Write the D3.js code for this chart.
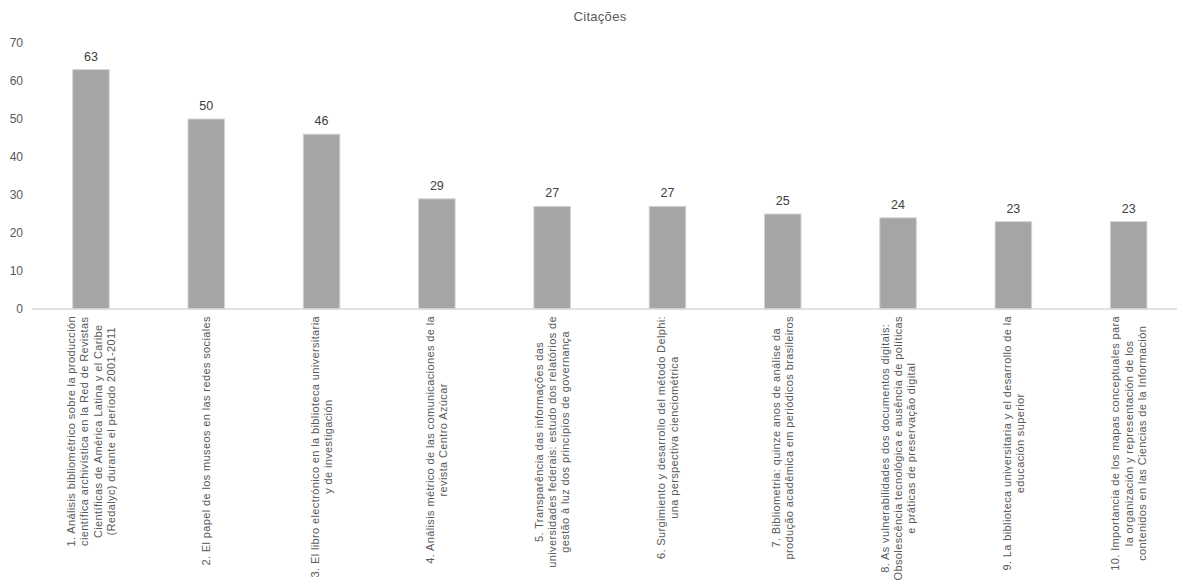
<!DOCTYPE html>
<html>
<head>
<meta charset="utf-8">
<script src="https://cdn.jsdelivr.net/npm/d3@7"></script>
<style>
  body { margin: 0; background: #fff; }
  svg { display: block; font-family: "Liberation Sans", Arial, sans-serif; }
</style>
</head>
<body>
<svg id="chart" width="1177" height="584"></svg>
<script>
const title = "Citações";
const categories = [
  ["1. Análisis bibliométrico sobre la producción", "científica archivística en la Red de Revistas", "Científicas de América Latina y el Caribe", "(Redalyc) durante el período 2001-2011"],
  ["2. El papel de los museos en las redes sociales"],
  ["3. El libro electrónico en la biblioteca universitaria", "y de investigación"],
  ["4. Análisis métrico de las comunicaciones de la", "revista Centro Azúcar"],
  ["5. Transparência das informações das", "universidades federais: estudo dos relatórios de", "gestão à luz dos princípios de governança"],
  ["6. Surgimiento y desarrollo del método Delphi:", "una perspectiva cienciométrica"],
  ["7. Bibliometria: quinze anos de análise da", "produção acadêmica em periódicos brasileiros"],
  ["8. As vulnerabilidades dos documentos digitais:", "Obsolescência tecnológica e ausência de políticas", "e práticas de preservação digital"],
  ["9. La biblioteca universitaria y el desarrollo de la", "educación superior"],
  ["10. Importancia de los mapas conceptuales para", "la organización y representación de los", "contenidos en las Ciencias de la Información"]
];
const values = [63, 50, 46, 29, 27, 27, 25, 24, 23, 23];
const yTicks = [0, 10, 20, 30, 40, 50, 60, 70];

const svg = d3.select("#chart");
const W = 1177;
const ids = d3.range(values.length);

const x = d3.scaleBand().domain(ids).range([33.3, 1186.3]).paddingInner(0.683).paddingOuter(0.3415);
const y = d3.scaleLinear().domain([0, 70]).range([309, 43]);

// title
svg.append("text").attr("x", 600).attr("y", 21).attr("text-anchor", "middle")
  .attr("fill", "#595959").attr("font-size", 13).attr("letter-spacing", 0.3).text(title);

// y axis labels
const yAxis = d3.axisLeft(y).tickValues(yTicks).tickSize(0).tickPadding(0);
const gy = svg.append("g").attr("transform", "translate(23,0)").call(yAxis);
gy.select(".domain").remove();
gy.selectAll("text").attr("fill", "#595959").attr("font-size", 12)
  .attr("font-family", "Liberation Sans, Arial, sans-serif");

// bars
svg.append("g").selectAll("rect").data(values).join("rect")
  .attr("x", (d, i) => x(i))
  .attr("y", d => y(d))
  .attr("width", x.bandwidth())
  .attr("height", d => y(0) - y(d))
  .attr("fill", "#a5a5a5")
  .attr("stroke", "#d4d4d4")
  .attr("stroke-width", 1);

// baseline
svg.append("line").attr("x1", 32).attr("x2", W).attr("y1", y(0)).attr("y2", y(0))
  .attr("stroke", "#d9d9d9").attr("stroke-width", 1.3);

// value labels
svg.append("g").selectAll("text").data(values).join("text")
  .attr("x", (d, i) => x(i) + x.bandwidth() / 2)
  .attr("y", d => y(d) - 9)
  .attr("text-anchor", "middle")
  .attr("fill", "#404040").attr("font-size", 12.5)
  .text(d => d);

// category labels (rotated, multi-line, centered)
const lineH = 13.3;
const gl = svg.append("g");
categories.forEach((lines, i) => {
  const cx = x(i) + x.bandwidth() / 2;
  const g = gl.append("g");
  const t = g.append("text").attr("text-anchor", "middle")
    .attr("fill", "#595959").attr("font-size", 11).attr("letter-spacing", 0.38);
  const n = lines.length;
  lines.forEach((ln, j) => {
    t.append("tspan").attr("x", 0).attr("y", (j - (n - 1) / 2) * lineH)
      .attr("dominant-baseline", "central").text(ln);
  });
  let maxLen = 0;
  t.selectAll("tspan").each(function () { maxLen = Math.max(maxLen, this.getComputedTextLength()); });
  const top = y(0) + 7;
  g.attr("transform", `translate(${cx},${top + maxLen / 2}) rotate(-90)`);
});
</script>
</body>
</html>
